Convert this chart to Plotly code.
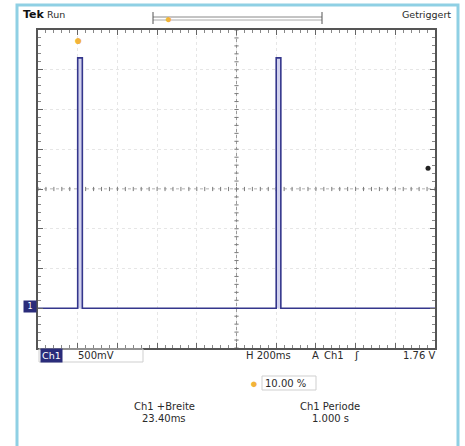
import numpy as np
import plotly.graph_objects as go

# ---- data ----
pulse_starts = [0.0, 1.0]        # s
pulse_width = 0.0234             # s  (Ch1 +Breite 23.40 ms)
level_high = 3.15                # V
level_low = 0.0                  # V
t_start, t_end = -0.2, 1.8       # 10 div x 200 ms, trigger at 10 %
v_min, v_max = -0.5, 3.5         # 8 div x 500 mV, ground at -3 div
trigger_level = 1.76             # V

# build trace from the values above
t = [t_start]
v = [level_low]
for s in pulse_starts:
    t += [s, s, s + pulse_width, s + pulse_width]
    v += [level_low, level_high, level_high, level_low]
t.append(t_end)
v.append(level_low)

W, H = 465, 446
L, R, T, B = 38, 435, 30, 348


def px(x):
    return (x - L) / (R - L)


def py(y):
    return (B - y) / (B - T)


fig = go.Figure()

# center crosshair ticks
xc = (t_start + t_end) / 2
yc = (v_min + v_max) / 2
xt = np.arange(t_start, t_end + 1e-9, 0.04)
yt = np.arange(v_min, v_max + 1e-9, 0.1)
fig.add_trace(go.Scatter(x=xt, y=[yc] * len(xt), mode="markers",
                         marker=dict(symbol="line-ns", size=3,
                                     line=dict(width=1, color="#7a7a7a")),
                         hoverinfo="skip", showlegend=False))
fig.add_trace(go.Scatter(x=[xc] * len(yt), y=yt, mode="markers",
                         marker=dict(symbol="line-ew", size=3,
                                     line=dict(width=1, color="#7a7a7a")),
                         hoverinfo="skip", showlegend=False))

# signal trace
fig.add_trace(go.Scatter(x=t, y=v, mode="lines",
                         line=dict(color="#34368c", width=1.6, shape="linear"),
                         fill="tozeroy", fillcolor="rgba(210,210,238,1)",
                         hoverinfo="skip", showlegend=False))

# trigger level dot at right
fig.add_trace(go.Scatter(x=[t_end - 0.035], y=[trigger_level], mode="markers",
                         marker=dict(size=5, color="#222"),
                         hoverinfo="skip", showlegend=False))

shapes = []
# center dotted lines
shapes.append(dict(type="line", xref="x", yref="y", x0=t_start, x1=t_end, y0=yc, y1=yc,
                   line=dict(color="#9a9a9a", width=1, dash="dot"), layer="below"))
shapes.append(dict(type="line", xref="x", yref="y", x0=xc, x1=xc, y0=v_min, y1=v_max,
                   line=dict(color="#9a9a9a", width=1, dash="dot"), layer="below"))
# outer light-blue frame
shapes.append(dict(type="rect", xref="paper", yref="paper",
                   x0=px(17), x1=px(458), y0=py(452), y1=py(5),
                   line=dict(color="#8fd0e4", width=3)))
# top bracket
shapes.append(dict(type="line", xref="paper", yref="paper", x0=px(153), x1=px(322),
                   y0=py(17), y1=py(17), line=dict(color="#888", width=1)))
shapes.append(dict(type="line", xref="paper", yref="paper", x0=px(153), x1=px(322),
                   y0=py(20), y1=py(20), line=dict(color="#aaa", width=1)))
shapes.append(dict(type="line", xref="paper", yref="paper", x0=px(153), x1=px(153),
                   y0=py(12), y1=py(24), line=dict(color="#555", width=1)))
shapes.append(dict(type="line", xref="paper", yref="paper", x0=px(322), x1=px(322),
                   y0=py(12), y1=py(24), line=dict(color="#555", width=1)))
# bottom-left channel box
shapes.append(dict(type="rect", xref="paper", yref="paper", x0=px(39), x1=px(143),
                   y0=py(362), y1=py(349), line=dict(color="#cfcfcf", width=1)))
# 10.00 % box
shapes.append(dict(type="rect", xref="paper", yref="paper", x0=px(262), x1=px(316),
                   y0=py(390), y1=py(376), line=dict(color="#cfcfcf", width=1)))

fig.update_layout(shapes=shapes)

FONT = "DejaVu Sans"
C = "#2a2a2a"
ann = []


def txt(x, y, s, size=10, color=C, xanchor="left", bold=False, bg=None, pad=0):
    ann.append(dict(xref="paper", yref="paper", x=px(x), y=py(y), text=("<b>%s</b>" % s) if bold else s,
                    showarrow=False, xanchor=xanchor, yanchor="middle",
                    font=dict(family=FONT, size=size, color=color),
                    bgcolor=bg, borderpad=pad))


txt(22, 15, "Tek", size=11, color="#111", bold=True)
txt(46, 14, "Run", size=9.5)
txt(452, 14, "Getriggert", size=9.5, xanchor="right")
txt(40, 355, "Ch1", size=9.5, color="white", bg="#2a2c7a", pad=1)
txt(77, 355, "500mV", size=10)
txt(245, 355, "H 200ms", size=10)
txt(311, 355, "A", size=10)
txt(323, 355, "Ch1", size=10)
txt(353, 355, "ʃ", size=11)
txt(436, 355, "1.76 V", size=10, xanchor="right")
txt(264, 383, "10.00 %", size=10)
txt(164, 406, "Ch1 +Breite", size=10, xanchor="center")
txt(164, 418, "23.40ms", size=10, xanchor="center")
txt(330, 406, "Ch1 Periode", size=10, xanchor="center")
txt(330, 418, "1.000 s", size=10, xanchor="center")
# ground marker
txt(23, 306, " 1 ", size=8, color="white", bg="#2a2c7a", pad=1)
# orange markers
ann.append(dict(xref="x", yref="paper", x=0.0, y=py(39), text="●", showarrow=False,
                font=dict(size=14, color="#f2b33a"), xanchor="center", yanchor="middle"))
ann.append(dict(xref="paper", yref="paper", x=px(168), y=py(18), text="●", showarrow=False,
                font=dict(size=12, color="#f2b33a"), xanchor="center", yanchor="middle"))
ann.append(dict(xref="paper", yref="paper", x=px(254), y=py(383), text="●", showarrow=False,
                font=dict(size=13, color="#f2b33a"), xanchor="center", yanchor="middle"))
fig.update_layout(annotations=ann)

fig.update_xaxes(range=[t_start, t_end], showticklabels=False, showline=True,
                 linecolor="#555", linewidth=2, mirror="allticks", ticks="inside",
                 tickcolor="#666", ticklen=5, tick0=t_start, dtick=0.2,
                 showgrid=True, gridcolor="#e6e6e6", griddash="dot", gridwidth=1,
                 zeroline=False,
                 minor=dict(dtick=0.04, tick0=t_start, ticks="inside", ticklen=3,
                            tickcolor="#888", showgrid=False))
fig.update_yaxes(range=[v_min, v_max], showticklabels=False, showline=True,
                 linecolor="#555", linewidth=2, mirror="allticks", ticks="inside",
                 tickcolor="#666", ticklen=5, tick0=v_min, dtick=0.5,
                 showgrid=True, gridcolor="#e6e6e6", griddash="dot", gridwidth=1,
                 zeroline=False,
                 minor=dict(dtick=0.1, tick0=v_min, ticks="inside", ticklen=3,
                            tickcolor="#888", showgrid=False))

fig.update_layout(width=W, height=H, autosize=False,
                  margin=dict(l=L, r=W - R, t=T, b=H - B, pad=0),
                  paper_bgcolor="white", plot_bgcolor="white")

fig.write_html("out.html", config={"displayModeBar": False},
               post_script="document.body.style.margin='0px';"
                           "document.body.style.overflow='hidden';"
                           "document.documentElement.style.overflow='hidden';")
